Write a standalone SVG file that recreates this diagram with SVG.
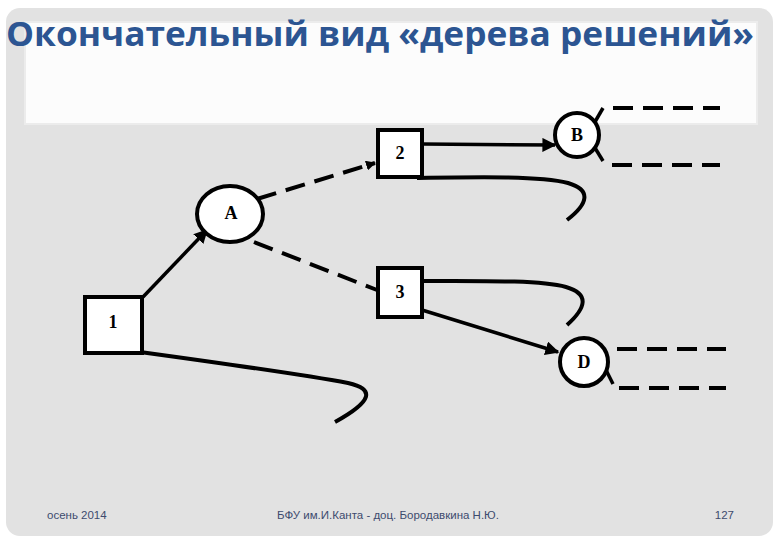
<svg xmlns="http://www.w3.org/2000/svg" width="780" height="540" viewBox="0 0 780 540">
<style>
.box{fill:#ffffff;stroke:#000;stroke-width:4}
.lbl{font-family:"Liberation Serif",serif;font-weight:bold;font-size:18px;fill:#000;text-anchor:middle}
.solid{fill:none;stroke:#000;stroke-width:3.5}
.tick{fill:none;stroke:#000;stroke-width:3.5}
.curve{fill:none;stroke:#000;stroke-width:4;stroke-linecap:butt}
.dash{fill:none;stroke:#000;stroke-width:4;stroke-dasharray:20 10}
.foot{font-family:"Liberation Sans",sans-serif;font-size:11.5px;fill:#3d4b6e}
</style>
<defs>
<marker id="arr" viewBox="0 0 10 10" refX="9" refY="5" markerWidth="4" markerHeight="4" orient="auto" markerUnits="strokeWidth">
<path d="M0,0 L10,5 L0,10 z" fill="#000"/>
</marker>
<marker id="arrs" viewBox="0 0 10 10" refX="9" refY="5" markerWidth="2.5" markerHeight="2.5" orient="auto" markerUnits="strokeWidth">
<path d="M0,0 L10,5 L0,10 z" fill="#000"/>
</marker>
</defs>
<rect x="0" y="0" width="780" height="540" fill="#ffffff"/>
<rect x="6" y="8" width="767" height="528" rx="14" fill="#e2e2e2"/>
<rect x="25" y="22" width="732" height="102" fill="#fcfcfc" stroke="#ececec" stroke-width="2"/>
<text x="6" y="46" font-family="'Open Sans','Liberation Sans',sans-serif" font-weight="bold" font-size="34" fill="#2c5592" textLength="748" lengthAdjust="spacingAndGlyphs">Окончательный вид «дерева решений»</text>

<g id="connectors">
<line class="solid" x1="143" y1="297" x2="207" y2="230" marker-end="url(#arr)"/>
<line class="dash" x1="257" y1="199" x2="375" y2="163" marker-end="url(#arrs)"/>
<line class="dash" x1="254" y1="242" x2="377" y2="290"/>
<line class="solid" x1="422" y1="144" x2="555" y2="145" marker-end="url(#arr)"/>
<path class="curve" d="M417,178 C480,177 540,176 568,183 C592,190 588,204 567,220"/>
<line class="solid" x1="422" y1="310" x2="558" y2="352" marker-end="url(#arr)"/>
<path class="curve" d="M422,281 C480,281 540,280 566,287 C590,294 586,308 567,325"/>
<path class="curve" d="M140,352 C220,363 300,374 348,383 C375,389 373,401 335,422"/>
<line class="tick" x1="603" y1="108" x2="592" y2="127"/>
<line class="tick" x1="592" y1="143" x2="603" y2="161"/>
<line class="tick" x1="603" y1="364" x2="613" y2="384"/>
<line class="dash" x1="613" y1="108" x2="720" y2="108"/>
<line class="dash" x1="612" y1="165" x2="720" y2="165"/>
<line class="dash" x1="617" y1="349" x2="726" y2="349"/>
<line class="dash" x1="619" y1="388" x2="726" y2="388"/>
</g>

<g id="node-1">
<rect class="box" x="85" y="297" width="57" height="56"/>
<text class="lbl" x="113" y="328">1</text>
</g>
<g id="node-A">
<ellipse class="box" cx="230" cy="214" rx="33" ry="28"/>
<text class="lbl" x="231" y="219" font-size="16">A</text>
</g>
<g id="node-2">
<rect class="box" x="378" y="130" width="44" height="47"/>
<text class="lbl" x="400" y="159">2</text>
</g>
<g id="node-3">
<rect class="box" x="378" y="268" width="44" height="49"/>
<text class="lbl" x="400" y="298">3</text>
</g>
<g id="node-B">
<circle class="box" cx="577" cy="135" r="22"/>
<text class="lbl" x="577" y="141" font-size="16">B</text>
</g>
<g id="node-D">
<circle class="box" cx="584" cy="362" r="24"/>
<text class="lbl" x="584" y="368" font-size="16">D</text>
</g>

<text class="foot" x="47" y="519">осень 2014</text>
<text class="foot" x="388" y="519" text-anchor="middle">БФУ им.И.Канта - доц. Бородавкина Н.Ю.</text>
<text class="foot" x="734" y="519" text-anchor="end">127</text>
</svg>
